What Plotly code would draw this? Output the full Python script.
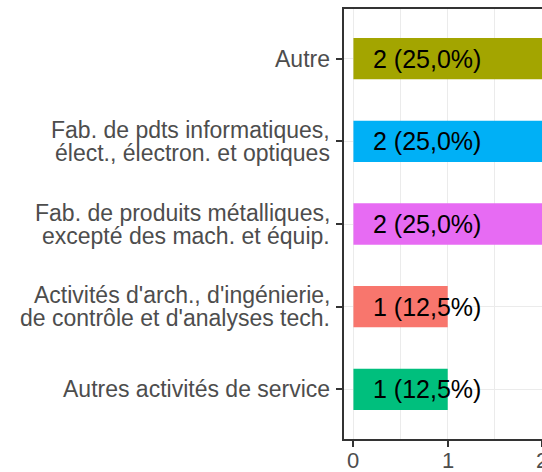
import plotly.graph_objects as go

categories = [
    "Autres activités de service",
    "Activités d'arch., d'ingénierie,<br>de contrôle et d'analyses tech.",
    "Fab. de produits métalliques,<br>excepté des mach. et équip.",
    "Fab. de pdts informatiques,<br>élect., électron. et optiques",
    "Autre",
]
counts = [1, 1, 2, 2, 2]
labels = ["1 (12,5%)", "1 (12,5%)", "2 (25,0%)", "2 (25,0%)", "2 (25,0%)"]
colors = ["#00BF7D", "#F8766D", "#E76BF3", "#00B0F6", "#A3A500"]
x_ticks = [0, 1, 2]

FONT = "Liberation Sans, Arial, Helvetica, sans-serif"

fig = go.Figure()
fig.add_trace(go.Bar(
    y=categories, x=counts, orientation="h", width=0.5,
    marker=dict(color=colors, line=dict(width=0)),
    hoverinfo="skip", showlegend=False,
))
for c, lab in zip(categories, labels):
    fig.add_annotation(x=0.78, y=c, text=lab, showarrow=False,
                       xanchor="center", yanchor="middle",
                       font=dict(family=FONT, size=25, color="black"))

# category labels (one annotation per line for ggplot-like line spacing)
for c in categories:
    lines = c.split("<br>")
    n = len(lines)
    for i, ln in enumerate(lines):
        shift = ((n - 1) / 2 - i) * 23
        fig.add_annotation(x=0, xref="paper", y=c, yref="y", text=ln,
                           showarrow=False, xanchor="right", yanchor="middle",
                           xshift=-12, yshift=shift,
                           font=dict(family=FONT, size=23, color="#4D4D4D"))

# x tick labels
for v in x_ticks:
    fig.add_annotation(x=v, y=0, xref="x", yref="paper", yanchor="top", yshift=-7,
                       text=str(v), showarrow=False,
                       font=dict(family=FONT, size=22, color="#4D4D4D"))

fig.update_layout(
    width=542, height=472,
    margin=dict(l=344, r=0, t=9, b=33),
    plot_bgcolor="white", paper_bgcolor="white",
    font=dict(family=FONT, color="#4D4D4D"),
)
fig.update_xaxes(
    range=[-0.1, 2.0],
    tickvals=x_ticks, showticklabels=False,
    showgrid=True, gridcolor="#EBEBEB", gridwidth=1.2,
    minor=dict(tickvals=[0.5, 1.5], showgrid=True, gridcolor="#EBEBEB", gridwidth=0.6),
    showline=True, linecolor="#333333", linewidth=2.2, mirror=True,
    ticks="outside", ticklen=6, tickwidth=2, tickcolor="#333333",
    zeroline=False,
)
fig.update_yaxes(
    categoryorder="array", categoryarray=categories,
    range=[-0.6, 4.6], showticklabels=False,
    showgrid=True, gridcolor="#EBEBEB", gridwidth=1.2,
    showline=True, linecolor="#333333", linewidth=2.2, mirror=False,
    ticks="outside", ticklen=6, tickwidth=2, tickcolor="#333333",
    zeroline=False,
)
fig.write_html("out.html", config={"displayModeBar": False},
               post_script="document.body.style.margin='0';document.body.style.overflow='hidden';")
